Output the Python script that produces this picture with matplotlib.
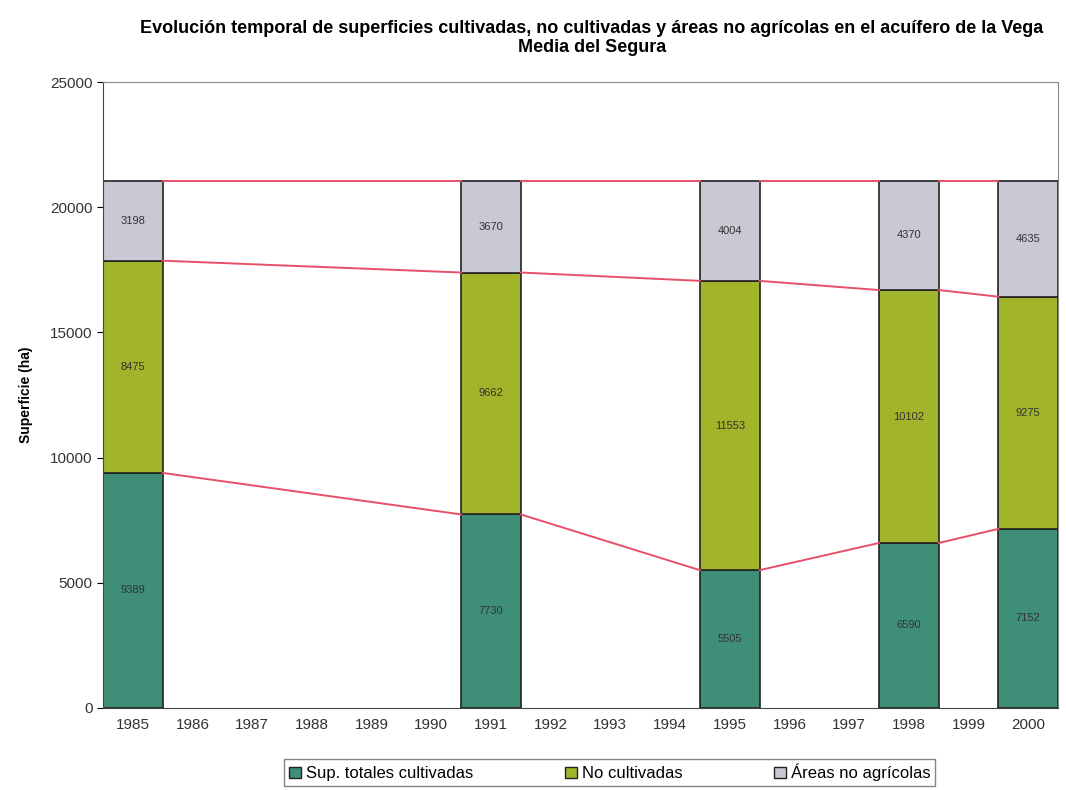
import numpy as np
import matplotlib
matplotlib.use("Agg")
from matplotlib import pyplot as plt
from matplotlib.patches import Patch

plt.rcParams['font.family'] = ['Liberation Sans', 'DejaVu Sans']

# Years on the category axis and the years that carry data
years = ['1985', '1986', '1987', '1988', '1989', '1990', '1991', '1992',
         '1993', '1994', '1995', '1996', '1997', '1998', '1999', '2000']
bar_years = ['1985', '1991', '1995', '1998', '2000']

# Surfaces (ha)
cultivadas = [9389, 7730, 5505, 6590, 7152]
no_cultivadas = [8475, 9662, 11553, 10102, 9275]
no_agricolas = [3198, 3670, 4004, 4370, 4635]

series_names = ['Sup. totales cultivadas', 'No cultivadas', 'Áreas no agrícolas']
colors = ['#3f8f78', '#a2b42a', '#c9c9d6']

fig = plt.figure(figsize=(10.66, 7.9), dpi=100)
ax = fig.add_axes([0.0966, 0.1038, 0.8959, 0.7924])

x = np.array([years.index(y) for y in bar_years])
width = 1.0
bottom = np.zeros(len(x))
tops = []
for vals, col in zip([cultivadas, no_cultivadas, no_agricolas], colors):
    vals = np.array(vals)
    ax.bar(x, vals, width=width, bottom=bottom, color=col,
           edgecolor='#222222', linewidth=1.2, zorder=2)
    for xi, b, v in zip(x, bottom, vals):
        ax.text(xi, b + v / 2, str(v), ha='center', va='center',
                fontsize=8, color='#333333', zorder=4)
    bottom = bottom + vals
    tops.append(bottom.copy())

# Series lines joining the bar edges
for t in tops:
    for i in range(len(x) - 1):
        ax.plot([x[i] + width / 2, x[i + 1] - width / 2], [t[i], t[i + 1]],
                color='#e8506a', linewidth=1.4, zorder=3)

ax.set_xlim(-0.5, len(years) - 0.5)
ax.set_ylim(0, 25000)
ax.set_xticks(range(len(years)))
ax.set_xticklabels(years, fontsize=11, color='#333333')
ax.set_yticks(np.arange(0, 25001, 5000))
ax.tick_params(axis='y', labelsize=11, length=4, labelcolor='#333333')
ax.tick_params(axis='x', length=0, pad=7)
ax.set_ylabel('Superficie (ha)', fontsize=10, fontweight='bold', labelpad=12)
for s in ax.spines.values():
    s.set_color('#888888')
ax.spines['bottom'].set_color('#444444')
ax.spines['left'].set_color('#444444')

fig.text(0.555, 0.975, 'Evolución temporal de superficies cultivadas, no cultivadas y áreas no agrícolas en el acuífero de la Vega\nMedia del Segura',
         ha='center', va='top', fontsize=13, fontweight='bold', linespacing=1.15)

handles = [Patch(facecolor=c, edgecolor='#222222', label=n) for c, n in zip(colors, series_names)]
leg = fig.legend(handles=handles, loc='center', bbox_to_anchor=(0.572, 0.022), ncol=3,
                 fontsize=12, frameon=True, fancybox=False, edgecolor='#666666',
                 handlelength=0.7, handleheight=0.7, handletextpad=0.3, columnspacing=5.5,
                 borderpad=0.3)

plt.savefig('out.png', dpi=100)
